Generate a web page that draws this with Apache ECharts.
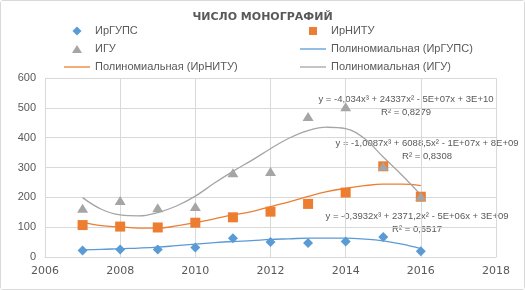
<!DOCTYPE html>
<html>
<head>
<meta charset="utf-8">
<script src="https://cdn.jsdelivr.net/npm/echarts@6/dist/echarts.min.js"></script>
<style>
  html, body { margin: 0; padding: 0; background: #fff; }
  #chart { width: 523px; height: 288px; border: 1px solid #d9d9d9; border-radius: 3px; }
</style>
</head>
<body>
<div id="chart"></div>
<script>
// years on the x axis
var years = [2007, 2008, 2009, 2010, 2011, 2012, 2013, 2014, 2015, 2016];
// number of monographs per university
var irgups = [22, 25, 25, 32, 63, 50, 47, 52, 67, 19];
var irnitu = [107, 102, 99, 115, 133, 152, 178, 216, 304, 202];
var igu = [163, 189, 165, 169, 282, 287, 471, 504, 304, 204];
// polynomial trend lines, values every half year
var trendYears = [2007, 2007.5, 2008, 2008.5, 2009, 2009.5, 2010, 2010.5, 2011, 2011.5,
  2012, 2012.5, 2013, 2013.5, 2014, 2014.5, 2015, 2015.5, 2016];
var trendIrgups = [24, 25.5, 28, 30, 33, 38, 43, 48, 52, 55, 59, 61, 63, 63, 63, 60, 54, 43, 28];
var trendIrnitu = [117, 105, 101, 97, 97, 104, 115, 128, 141, 152, 169, 185, 203, 219, 230, 239, 244, 244, 239];
var trendIgu = [199, 160, 141, 138, 149, 171, 204, 247, 287, 324, 363, 399, 424, 435, 430, 397, 335, 274, 208];
// trend equations shown on the chart
var eqIgu = ['y = -4,034x³ + 24337x² - 5E+07x + 3E+10', 'R² = 0,8279'];
var eqIrnitu = ['y = -1,0087x³ + 6088,5x² - 1E+07x + 8E+09', 'R² = 0,8308'];
var eqIrgups = ['y = -0,3932x³ + 2371,2x² - 5E+06x + 3E+09', 'R² = 0,6517'];

var textColor = '#595959';
var gridColor = '#d9d9d9';
// legend icons: the move-to corners keep the 26x9 box so the marker is not stretched
var lineIcon = 'path://M0,0 L20,0 L20,1 L0,1 Z';
var diamondIcon = 'path://M0,0 M26,9 M13,0 L17.5,4.5 L13,9 L8.5,4.5 Z';
var squareIcon = 'path://M0,0 M26,9 M9,0.5 L17,0.5 L17,8.5 L9,8.5 Z';
var triangleIcon = 'path://M0,0 M26,9 M13,0.5 L18,8.5 L8,8.5 Z';

function pairs(xs, vals) {
  var out = [];
  for (var i = 0; i < xs.length; ++i) {
    out.push([xs[i], vals[i]]);
  }
  return out;
}

function scatter(name, vals, symbol, color) {
  return {
    name: name,
    type: 'scatter',
    symbol: symbol,
    symbolSize: symbol == 'triangle' ? [11, 9] : 10,
    itemStyle: { color: color, opacity: 1 },
    data: pairs(years, vals),
    z: 3
  };
}

function trend(name, vals, color) {
  return {
    name: name,
    type: 'line',
    smooth: 0.4,
    symbol: 'none',
    showSymbol: false,
    silent: true,
    lineStyle: { color: color, width: 1.3 },
    itemStyle: { color: color },
    data: pairs(trendYears, vals),
    z: 2
  };
}

function eqText(lines, x, y) {
  return {
    type: 'text',
    x: x,
    y: y,
    style: {
      text: lines.join('\n'),
      align: 'center',
      verticalAlign: 'middle',
      fill: textColor,
      font: '9.5px "Liberation Sans"',
      lineHeight: 12.6
    }
  };
}

var chart = echarts.init(document.getElementById('chart'));
var legendText = { color: textColor, fontSize: 11, fontFamily: 'Liberation Sans', lineHeight: 14 };

var option = {
  backgroundColor: '#fff',
  animation: false,
  title: {
    text: 'ЧИСЛО МОНОГРАФИЙ',
    left: 'center',
    top: 6,
    textStyle: { color: textColor, fontSize: 11, fontWeight: 'bold', fontFamily: 'DejaVu Sans' }
  },
  legend: [{
    orient: 'vertical',
    left: 63,
    top: 23,
    padding: 0,
    itemWidth: 26,
    itemHeight: 9,
    itemGap: 4,
    textStyle: legendText,
    data: [
      { name: 'ИрГУПС', icon: diamondIcon },
      { name: 'ИГУ', icon: triangleIcon },
      { name: 'Полиномиальная (ИрНИТУ)', icon: lineIcon }
    ]
  }, {
    orient: 'vertical',
    left: 299,
    top: 23,
    padding: 0,
    itemWidth: 26,
    itemHeight: 9,
    itemGap: 4,
    textStyle: legendText,
    data: [
      { name: 'ИрНИТУ', icon: squareIcon },
      { name: 'Полиномиальная (ИрГУПС)', icon: lineIcon },
      { name: 'Полиномиальная (ИГУ)', icon: lineIcon }
    ]
  }],
  grid: { left: 44, right: 28, top: 77, bottom: 32, containLabel: false },
  xAxis: {
    type: 'value',
    min: 2006,
    max: 2018,
    interval: 2,
    axisLine: { show: true, lineStyle: { color: gridColor } },
    axisTick: { show: false },
    splitLine: { show: true, lineStyle: { color: gridColor } },
    axisLabel: {
      color: textColor,
      fontSize: 11,
      fontFamily: 'DejaVu Sans',
      margin: 9,
      formatter: function (v) { return String(v); }
    }
  },
  yAxis: {
    type: 'value',
    min: 0,
    max: 600,
    interval: 100,
    axisLine: { show: false },
    axisTick: { show: false },
    splitLine: { show: true, lineStyle: { color: gridColor } },
    axisLabel: { color: textColor, fontSize: 11, fontFamily: 'Liberation Sans', margin: 9 }
  },
  series: [
    scatter('ИрГУПС', irgups, 'diamond', '#5B9BD5'),
    scatter('ИрНИТУ', irnitu, 'rect', '#ED7D31'),
    scatter('ИГУ', igu, 'triangle', '#A5A5A5'),
    trend('Полиномиальная (ИрГУПС)', trendIrgups, '#5B9BD5'),
    trend('Полиномиальная (ИрНИТУ)', trendIrnitu, '#ED7D31'),
    trend('Полиномиальная (ИГУ)', trendIgu, '#A5A5A5')
  ],
  graphic: [
    eqText(eqIgu, 405, 105),
    eqText(eqIrnitu, 426, 149),
    eqText(eqIrgups, 416, 222)
  ]
};

chart.setOption(option);
</script>
</body>
</html>
